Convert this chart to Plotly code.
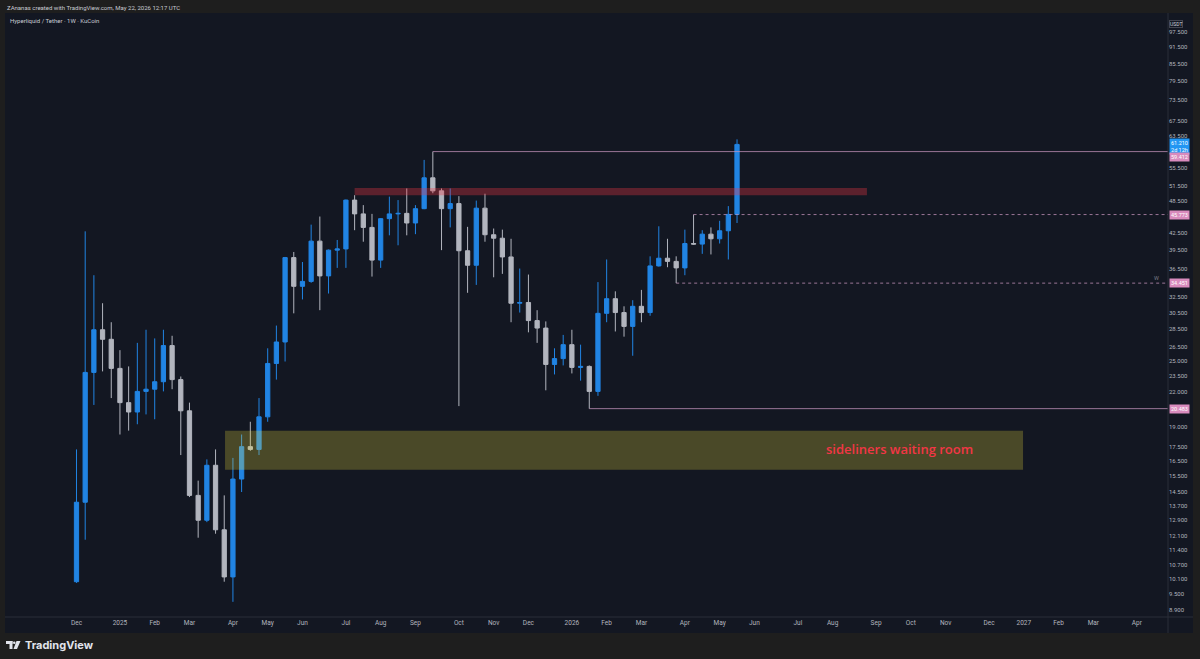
import numpy as np
import pandas as pd
import plotly.graph_objects as go

# ---------------- data ----------------
week_start = "2024-12-02"
n_weeks = 77
dates = pd.date_range(week_start, periods=n_weeks, freq="W-MON")

opens = [10.0, 13.9, 23.8, 28.4, 27.3, 24.2, 21.0, 20.2, 22.0, 22.2,
         22.9, 26.6, 23.1, 20.3, 14.3, 12.9, 16.2, 12.4, 10.2, 15.3,
         17.5, 17.3, 19.8, 24.7, 27.0, 38.3, 34.0, 34.7, 41.0, 35.5,
         39.5, 39.7, 48.6, 45.9, 43.4, 37.9, 45.0, 45.9, 46.0, 44.2,
         46.9, 53.3, 50.5, 46.9, 47.9, 39.4, 37.1, 47.0, 42.1, 41.5,
         38.4, 31.7, 31.8, 29.5, 28.6, 24.6, 25.2, 26.7, 24.3, 24.4,
         22.0, 30.4, 32.3, 30.5, 28.8, 31.3, 30.5, 37.0, 38.2, 37.7,
         36.7, 40.6, 40.5, 42.2, 41.4, 42.8, 45.8]
highs = [17.3, 42.7, 35.6, 31.7, 29.3, 26.1, 24.4, 26.9, 28.4, 27.4,
         28.4, 27.7, 23.4, 21.0, 15.2, 16.6, 17.3, 14.3, 16.7, 18.4,
         19.4, 21.4, 26.3, 28.9, 38.4, 39.2, 37.6, 43.9, 45.4, 39.6,
         41.2, 48.7, 49.6, 47.6, 45.9, 45.1, 49.3, 48.6, 51.0, 47.6,
         57.4, 59.412, 51.0, 51.0, 49.4, 43.5, 48.5, 49.9, 43.2, 43.0,
         41.4, 36.6, 35.7, 30.8, 29.4, 26.3, 27.8, 28.4, 26.7, 24.5,
         34.6, 38.0, 33.3, 31.3, 32.1, 33.5, 38.5, 43.6, 41.4, 38.5,
         43.0, 45.773, 42.9, 43.4, 44.6, 47.4, 62.5]
lows = [9.95, 11.9, 20.8, 23.9, 21.4, 18.4, 18.7, 19.2, 20.0, 19.6,
        22.0, 22.2, 16.9, 14.2, 12.0, 12.8, 12.2, 10.0, 9.2, 14.5,
        17.2, 16.9, 19.4, 23.1, 24.9, 30.4, 32.2, 34.5, 30.8, 33.0,
        36.7, 36.7, 42.9, 40.9, 35.4, 36.7, 42.0, 40.3, 42.0, 42.2,
        46.8, 50.0, 39.5, 43.4, 20.7, 33.1, 34.2, 40.9, 35.3, 35.8,
        29.3, 30.5, 28.1, 26.9, 22.1, 23.6, 24.5, 23.7, 23.0, 20.483,
        21.6, 29.3, 28.2, 27.6, 25.5, 29.3, 30.1, 36.9, 36.8, 34.451,
        35.6, 40.4, 38.9, 38.8, 40.6, 38.0, 44.2]
closes = [13.9, 23.8, 28.4, 27.3, 24.2, 21.0, 20.2, 22.0, 22.2, 22.9,
          26.6, 23.1, 20.3, 14.3, 12.9, 16.2, 12.4, 10.2, 15.3, 17.5,
          17.3, 19.8, 24.7, 27.0, 38.3, 34.0, 34.7, 41.0, 35.5, 39.5,
          39.7, 48.6, 45.9, 43.4, 37.9, 45.0, 45.9, 46.0, 44.2, 46.9,
          53.3, 50.5, 46.9, 47.9, 39.4, 37.1, 47.0, 42.1, 41.5, 38.4,
          31.7, 31.8, 29.5, 28.6, 24.6, 25.2, 26.7, 24.3, 24.4, 22.0,
          30.4, 32.3, 30.5, 28.8, 31.3, 30.5, 37.0, 38.2, 37.7, 36.7,
          40.6, 40.5, 42.2, 41.4, 42.8, 45.8, 61.21]

# price-axis ticks
y_tickvals = [97.5, 91.5, 85.5, 79.5, 73.5, 67.5, 63.5, 55.5, 51.5, 48.5,
              42.5, 39.5, 36.5, 32.5, 30.5, 28.5, 26.5, 25.0, 23.5, 22.0,
              19.0, 17.5, 16.5, 15.5, 14.5, 13.7, 12.9, 12.1, 11.4, 10.7,
              10.1, 9.5, 8.9]
y_ticktext = ["97.500", "91.500", "85.500", "79.500", "73.500", "67.500", "63.500",
              "55.500", "51.500", "48.500", "42.500", "39.500", "36.500", "32.500",
              "30.500", "28.500", "26.500", "25.000", "23.500", "22.000", "19.000",
              "17.500", "16.500", "15.500", "14.500", "13.700", "12.900", "12.100",
              "11.400", "10.700", "10.100", "9.500", "8.900"]

# time-axis ticks
x_tickvals = ["2024-12-02", "2025-01-06", "2025-02-03", "2025-03-03", "2025-04-07",
              "2025-05-05", "2025-06-02", "2025-07-07", "2025-08-04", "2025-09-01",
              "2025-10-06", "2025-11-03", "2025-12-01", "2026-01-05", "2026-02-02",
              "2026-03-02", "2026-04-06", "2026-05-04", "2026-06-01", "2026-07-06",
              "2026-08-03", "2026-09-07", "2026-10-05", "2026-11-02", "2026-12-07",
              "2027-01-04", "2027-02-01", "2027-03-01", "2027-04-05"]
x_ticktext = ["Dec", "2025", "Feb", "Mar", "Apr", "May", "Jun", "Jul", "Aug", "Sep",
              "Oct", "Nov", "Dec", "2026", "Feb", "Mar", "Apr", "May", "Jun", "Jul",
              "Aug", "Sep", "Oct", "Nov", "Dec", "2027", "Feb", "Mar", "Apr"]

x_range = ["2024-10-05 10:00", "2027-04-30 03:00"]
y_range = [8.64, 105.5]

# drawings
red_zone_x = ["2025-07-14", "2026-08-30 15:00"]
red_zone_y = [49.6, 51.1]
yellow_zone_x = ["2025-03-31 15:00", "2027-01-03 09:00"]
yellow_zone_y = [15.9, 18.7]
zone_text = "sideliners waiting room"
zone_text_pos = ["2026-09-26", 17.3]

level_ath = 59.412      # from bar index 41
level_low = 20.483      # from bar index 59
level_mid = 45.773      # from bar index 71
level_w = 34.451        # from bar index 69
last_price = 61.210

# ---------------- style ----------------
BG = "#131722"
OUTER = "#1e1e1e"
BLUE = "#2184e3"
GRAY = "#b2b5be"
TXT = "#b2b5be"
PINK = "#d98bbd"
LVL = "rgba(200,150,190,0.75)"

W, H = 1200, 659
L, R, T, B = 5, 1168, 13, 617


def px(x):
    return (x - L) / (R - L)


def py(y):
    return (B - y) / (B - T)


fig = go.Figure()

fig.add_trace(go.Candlestick(
    x=dates, open=opens, high=highs, low=lows, close=closes,
    increasing=dict(line=dict(color=BLUE, width=1), fillcolor=BLUE),
    decreasing=dict(line=dict(color=GRAY, width=1), fillcolor=GRAY),
    whiskerwidth=0, hoverinfo="skip", showlegend=False,
))

# red resistance zone
fig.add_trace(go.Scatter(
    x=[red_zone_x[0], red_zone_x[1], red_zone_x[1], red_zone_x[0], red_zone_x[0]],
    y=[red_zone_y[0], red_zone_y[0], red_zone_y[1], red_zone_y[1], red_zone_y[0]],
    mode="lines", fill="toself", fillcolor="rgba(242,54,69,0.33)",
    line=dict(width=0), hoverinfo="skip", showlegend=False))

# yellow zone
fig.add_trace(go.Scatter(
    x=[yellow_zone_x[0], yellow_zone_x[1], yellow_zone_x[1], yellow_zone_x[0], yellow_zone_x[0]],
    y=[yellow_zone_y[0], yellow_zone_y[0], yellow_zone_y[1], yellow_zone_y[1], yellow_zone_y[0]],
    mode="lines", fill="toself", fillcolor="rgba(240,225,60,0.25)",
    line=dict(width=0), hoverinfo="skip", showlegend=False))

# horizontal levels
def hline(start, level, dash):
    fig.add_trace(go.Scatter(
        x=[start, x_range[1]], y=[level, level], mode="lines",
        line=dict(color=LVL, width=1, dash=dash),
        hoverinfo="skip", showlegend=False))

hline(dates[41], level_ath, "solid")
hline(dates[59], level_low, "solid")
hline(dates[71], level_mid, "dot")
hline(dates[69], level_w, "dot")

# ---------------- frame shapes ----------------
shapes = []
for (x0, y0, x1, y1) in [(0, 0, W, T), (0, 633, W, H), (0, 0, L, H), (1193, 0, W, H)]:
    shapes.append(dict(type="rect", xref="paper", yref="paper",
                       x0=px(x0), x1=px(x1), y0=py(y1), y1=py(y0),
                       fillcolor=OUTER, line=dict(width=0), layer="above"))
shapes.append(dict(type="line", xref="paper", yref="paper", x0=px(R), x1=px(R),
                   y0=py(633), y1=py(T), line=dict(color="#2a2e39", width=1)))
shapes.append(dict(type="line", xref="paper", yref="paper", x0=px(L), x1=px(1193),
                   y0=py(B), y1=py(B), line=dict(color="#2a2e39", width=1)))

# ---------------- annotations ----------------
ann = []
ann.append(dict(text="ZAnanas created with TradingView.com, May 22, 2026 12:17 UTC",
                xref="paper", yref="paper", x=px(5), y=py(7), xanchor="left", yanchor="middle",
                showarrow=False, font=dict(size=6, color="#c8cbd3", family="Roboto")))
ann.append(dict(text="Hyperliquid / Tether · 1W · KuCoin",
                xref="paper", yref="paper", x=px(8), y=py(20), xanchor="left", yanchor="middle",
                showarrow=False, font=dict(size=6, color="#c8cbd3", family="Roboto")))
ann.append(dict(text=zone_text, xref="x", yref="y", x=zone_text_pos[0],
                y=np.log10(zone_text_pos[1]), showarrow=False,
                font=dict(size=13, color="#f23645", family="Open Sans", weight=600)))
ann.append(dict(text="USDT", xref="paper", yref="paper", x=px(1183), y=py(20.5),
                showarrow=False, bgcolor=BG, bordercolor="#434651", borderwidth=1, borderpad=0,
                font=dict(size=5, color="#d1d4dc", family="Roboto")))
ann.append(dict(text="W", xref="paper", yref="y", x=px(1161), y=np.log10(level_w), yshift=5,
                showarrow=False, font=dict(size=5.5, color="#787b86", family="Roboto")))

def price_label(val, txt, bg, shift=0):
    ann.append(dict(text=txt, xref="paper", yref="y", x=px(1169), y=np.log10(val),
                    xanchor="left", yanchor="middle", yshift=shift, showarrow=False,
                    bgcolor=bg, borderpad=1, align="center",
                    font=dict(size=5.5, color="#ffffff", family="Roboto")))

price_label(last_price, "61.210<br>2d 12h", "#2196f3", -2)
price_label(level_ath, "59.412", PINK, -5)
price_label(level_mid, "45.773", PINK)
price_label(level_w, "34.451", PINK)
price_label(level_low, "20.483", PINK)

ann.append(dict(text="<b>TradingView</b>", xref="paper", yref="paper", x=px(23), y=py(645),
                xanchor="left", yanchor="middle", showarrow=False,
                font=dict(size=11, color="#e0e3eb", family="Inter")))
# logo glyph
shapes.append(dict(type="rect", xref="paper", yref="paper", x0=px(6), x1=px(12.5),
                   y0=py(644), y1=py(641), fillcolor="#e0e3eb", line=dict(width=0), layer="above"))
shapes.append(dict(type="rect", xref="paper", yref="paper", x0=px(9.5), x1=px(12.5),
                   y0=py(649), y1=py(641), fillcolor="#e0e3eb", line=dict(width=0), layer="above"))
shapes.append(dict(type="circle", xref="paper", yref="paper", x0=px(13), x1=px(15.5),
                   y0=py(644), y1=py(641.5), fillcolor="#e0e3eb", line=dict(width=0), layer="above"))
shapes.append(dict(type="path", xref="paper", yref="paper",
                   path=f"M {px(16.5)} {py(641)} L {px(20.5)} {py(641)} L {px(17)} {py(649)} L {px(13.5)} {py(649)} Z",
                   fillcolor="#e0e3eb", line=dict(width=0), layer="above"))

fig.update_layout(
    width=W, height=H,
    margin=dict(l=L, r=W - R, t=T, b=H - B, pad=0),
    paper_bgcolor=BG, plot_bgcolor=BG,
    shapes=shapes, annotations=ann, showlegend=False,
    font=dict(family="Roboto", color=TXT),
    xaxis=dict(type="date", range=x_range, tickvals=x_tickvals, ticktext=x_ticktext,
               showgrid=False, zeroline=False, showline=False, ticks="",
               tickfont=dict(size=6.5, color=TXT), rangeslider=dict(visible=False),
               fixedrange=True),
    yaxis=dict(type="log", side="right", range=[np.log10(y_range[0]), np.log10(y_range[1])],
               tickvals=y_tickvals, ticktext=y_ticktext, showgrid=False, zeroline=False,
               showline=False, ticks="", tickfont=dict(size=6, color=TXT), fixedrange=True),
)

fig.write_html("out.html")
